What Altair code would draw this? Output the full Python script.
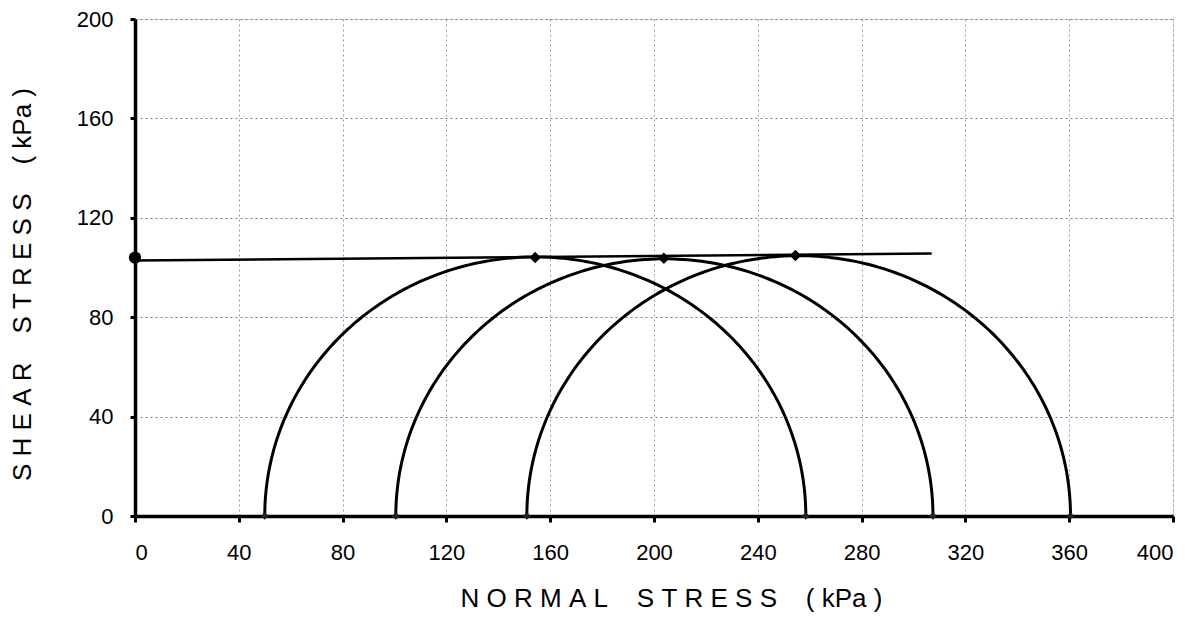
import altair as alt
import pandas as pd
import numpy as np

# Mohr circle data (kPa)
circle_ids = ["A", "B", "C"]
sigma3 = [50.0, 100.5, 151.0]
sigma1 = [258.5, 307.5, 360.5]

# failure envelope end points
env_x = [0.0, 307.0]
env_y = [102.8, 105.6]

# tangent (top) points of circles
top_x = [154.2, 203.8, 254.5]
top_y = [104.0, 103.7, 104.8]

# big marker at intercept
c_x = [0.0]
c_y = [104.0]

x_ticks = [0, 40, 80, 120, 160, 200, 240, 280, 320, 360, 400]
y_ticks = [0, 40, 80, 120, 160, 200]

NB = "\u00a0"
x_title = NB.join("NORMAL") + NB * 4 + NB.join("STRESS") + NB * 4 + "(" + NB + "kPa" + NB + ")"
y_title = NB.join("SHEAR") + NB * 4 + NB.join("STRESS") + NB * 4 + "(" + NB + "kPa" + NB + ")"

# build semicircles from sigma3/sigma1
rows = []
angles = np.linspace(0, 180, 181)
for cid, s3, s1 in zip(circle_ids, sigma3, sigma1):
    c = (s1 + s3) / 2
    r = (s1 - s3) / 2
    for i, a in enumerate(angles):
        t = np.deg2rad(a)
        rows.append({"id": cid, "ord": i, "x": c + r * np.cos(t), "y": r * np.sin(t)})
circ_df = pd.DataFrame(rows)

base_pts = pd.DataFrame({"x": sigma3 + sigma1, "y": [0.0] * 6})
top_df = pd.DataFrame({"x": top_x, "y": top_y})
env_df = pd.DataFrame({"x": env_x, "y": env_y})
c_df = pd.DataFrame({"x": c_x, "y": c_y})

xs = alt.Scale(domain=[0, 400], nice=False, zero=False)
ys = alt.Scale(domain=[0, 200], nice=False, zero=False)

FONT = "Liberation Sans"

xaxis = alt.Axis(
    values=x_ticks, grid=True, gridColor="#7f9fd0", gridDash=[2, 3], gridWidth=1,
    domainColor="black", domainWidth=3.5, tickColor="black", tickWidth=3, tickSize=6,
    labelFont=FONT, labelFontSize=22, labelColor="black", labelPadding=20,
    title=x_title, titleFont=FONT, titleFontSize=26, titleX=536,
    titleFontWeight="normal", titleColor="black", titlePadding=22,
)
yaxis = alt.Axis(
    values=y_ticks, grid=True, gridColor="#6f7f99", gridDash=[2, 3], gridWidth=1,
    domainColor="black", domainWidth=3.5, tickColor="black", tickWidth=3, tickSize=5,
    labelFont=FONT, labelFontSize=22, labelColor="black", labelPadding=17,
    title=y_title, titleFont=FONT, titleFontSize=26, titleY=265,
    titleFontWeight="normal", titleColor="black", titlePadding=41,
)

circles = alt.Chart(circ_df).mark_line(color="black", strokeWidth=3, clip=True).encode(
    x=alt.X("x:Q", scale=xs, axis=xaxis),
    y=alt.Y("y:Q", scale=ys, axis=yaxis),
    detail="id:N",
    order="ord:Q",
)

envelope = alt.Chart(env_df).mark_line(color="black", strokeWidth=2.5).encode(
    x=alt.X("x:Q", scale=xs), y=alt.Y("y:Q", scale=ys)
)

tops = alt.Chart(top_df).mark_point(shape="diamond", filled=True, color="black", size=130, opacity=1).encode(
    x=alt.X("x:Q", scale=xs), y=alt.Y("y:Q", scale=ys)
)

bases = alt.Chart(base_pts).mark_point(shape="diamond", filled=True, color="#222", size=60, opacity=1).encode(
    x=alt.X("x:Q", scale=xs), y=alt.Y("y:Q", scale=ys)
)

cpt = alt.Chart(c_df).mark_point(shape="circle", filled=True, color="black", size=150, opacity=1).encode(
    x=alt.X("x:Q", scale=xs), y=alt.Y("y:Q", scale=ys)
)

chart = alt.layer(circles, envelope, tops, bases, cpt).properties(
    width=1038, height=497,
    autosize=alt.AutoSizeParams(type="none"),
    padding={"left": 127, "top": 11, "right": 20, "bottom": 99},
).configure_view(stroke="#888", strokeWidth=1).configure(background="white")

chart.save("out.html", embed_options={"renderer": "svg", "actions": False})
